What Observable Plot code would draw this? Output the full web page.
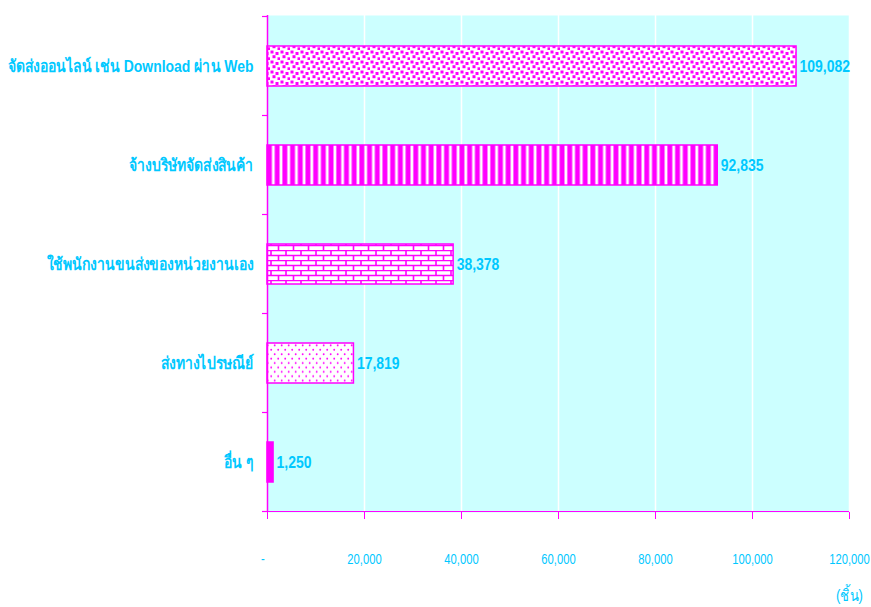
<!DOCTYPE html>
<html>
<head>
<meta charset="utf-8">
<script src="https://cdn.jsdelivr.net/npm/d3@7"></script>
<script src="https://cdn.jsdelivr.net/npm/@observablehq/plot@0.6"></script>
<style>
  html, body { margin: 0; padding: 0; background: #ffffff; }
  #chart { width: 871px; height: 607px; }
</style>
</head>
<body>
<div id="chart"></div>
<script>
// Delivery channels and item counts (ชิ้น)
const categories = [
  "จัดส่งออนไลน์ เช่น Download ผ่าน Web",
  "จ้างบริษัทจัดส่งสินค้า",
  "ใช้พนักงานขนส่งของหน่วยงานเอง",
  "ส่งทางไปรษณีย์",
  "อื่น ๆ"
];
const values = [109082, 92835, 38378, 17819, 1250];
const valueLabels = ["109,082", "92,835", "38,378", "17,819", "1,250"];
const patterns = ["url(#pat-squares)", "url(#pat-stripes)", "url(#pat-bricks)", "url(#pat-dots)", "#ff00ff"];
const xTicks = [0, 20000, 40000, 60000, 80000, 100000, 120000];
const xTickLabels = ["-\u00a0\u00a0\u00a0", "20,000", "40,000", "60,000", "80,000", "100,000", "120,000"];
const unitLabel = "(ชิ้น)";

const MAGENTA = "#ff00ff";
const CYAN_TEXT = "#00c8ff";
const FONT = "'Liberation Sans', Arial, sans-serif";

const data = categories.map((c, i) => ({
  category: c, value: values[i], label: valueLabels[i], fill: patterns[i]
}));

const chart = Plot.plot({
  width: 871,
  height: 607,
  marginLeft: 267,
  marginRight: 22,
  marginTop: 15,
  marginBottom: 95,
  style: { fontFamily: FONT, background: "transparent", overflow: "visible" },
  x: { domain: [0, 120000], ticks: xTicks },
  y: { domain: categories, padding: 0.6, paddingOuter: 0.3, label: null },
  color: { type: "identity" },
  marks: [
    Plot.frame({ fill: "#ccffff", stroke: null }),
    Plot.gridX(xTicks.slice(1), { stroke: "#ffffff", strokeOpacity: 1, strokeWidth: 1.5 }),
    Plot.barX(data, {
      x: "value", y: "category", fill: "fill",
      stroke: MAGENTA, strokeWidth: 1.5
    }),
    Plot.text(data, {
      x: "value", y: "category", text: "label",
      textAnchor: "start", dx: 3,
      fill: CYAN_TEXT, fontWeight: "bold", fontSize: 17
    }),
    Plot.ruleX([0], { stroke: MAGENTA, strokeWidth: 1.5 }),
    Plot.axisX({
      ticks: xTicks, tickFormat: d => xTickLabels[xTicks.indexOf(d)],
      tickSize: 7, tickPadding: 35, stroke: MAGENTA, fill: CYAN_TEXT,
      fontSize: 14, label: null
    }),
    Plot.axisY({
      tickSize: 0, tickPadding: 14, fill: CYAN_TEXT,
      fontSize: 17, fontWeight: "bold", label: null
    }),
    Plot.text([unitLabel], {
      frameAnchor: "bottom-right", textAnchor: "middle", dy: 88,
      fill: CYAN_TEXT, fontSize: 16
    })
  ]
});

// Pattern fills used by the bars
const svg = d3.select(chart);
const defs = svg.insert("defs", ":first-child");

const sq = defs.append("pattern").attr("id", "pat-squares")
  .attr("patternUnits", "userSpaceOnUse").attr("width", 10).attr("height", 10);
sq.append("rect").attr("width", 10).attr("height", 10).attr("fill", "#fff");
[[0.5, 0.5], [5.5, 2], [2.5, 5.2], [7.5, 7.3]].forEach(([x, y]) =>
  sq.append("rect").attr("x", x).attr("y", y).attr("width", 3).attr("height", 3).attr("fill", MAGENTA));

const st = defs.append("pattern").attr("id", "pat-stripes")
  .attr("patternUnits", "userSpaceOnUse").attr("width", 7.7).attr("height", 10);
st.append("rect").attr("width", 7.7).attr("height", 10).attr("fill", MAGENTA);
st.append("rect").attr("x", 2.4).attr("width", 2.8).attr("height", 10).attr("fill", "#fff");

const br = defs.append("pattern").attr("id", "pat-bricks")
  .attr("patternUnits", "userSpaceOnUse").attr("width", 15).attr("height", 10);
br.append("rect").attr("width", 15).attr("height", 10).attr("fill", "#fff");
br.append("path")
  .attr("d", "M0,0.5H15M0,5.5H15M1,0V5.5M8.5,5.5V10")
  .attr("stroke", MAGENTA).attr("stroke-width", 1.6).attr("fill", "none");

const dt = defs.append("pattern").attr("id", "pat-dots")
  .attr("patternUnits", "userSpaceOnUse").attr("width", 7).attr("height", 8.8);
dt.append("rect").attr("width", 7).attr("height", 8.8).attr("fill", "#fff");
dt.append("circle").attr("cx", 1.7).attr("cy", 2.2).attr("r", 0.95).attr("fill", MAGENTA);
dt.append("circle").attr("cx", 5.2).attr("cy", 6.6).attr("r", 0.95).attr("fill", MAGENTA);

// Category-boundary ticks on the y axis and the x axis line
const ys = chart.scale("y");
const xs = chart.scale("x");
const half = (ys.step - ys.bandwidth) / 2;
const bounds = categories.map(c => ys.apply(c) - half);
bounds.push(ys.apply(categories[categories.length - 1]) + ys.bandwidth + half);
const x0 = xs.apply(0);
const g = svg.append("g").attr("stroke", MAGENTA).attr("stroke-width", 1.2);
bounds.forEach(y => g.append("line").attr("x1", x0 - 5).attr("x2", x0).attr("y1", y).attr("y2", y));
g.append("line").attr("x1", x0 - 5).attr("x2", xs.apply(120000))
  .attr("y1", bounds[bounds.length - 1]).attr("y2", bounds[bounds.length - 1]);

document.getElementById("chart").appendChild(chart);

// Narrow lettering: squeeze each label horizontally
const squeeze = { "y-axis tick label": 0.82, "x-axis tick label": 0.8, "text": 0.82 };
svg.selectAll("g[aria-label]").each(function () {
  const k = squeeze[this.getAttribute("aria-label")];
  if (!k) return;
  d3.select(this).selectAll("text").each(function () {
    const len = this.getComputedTextLength();
    this.setAttribute("textLength", len * k);
    this.setAttribute("lengthAdjust", "spacingAndGlyphs");
  });
});
</script>
</body>
</html>
